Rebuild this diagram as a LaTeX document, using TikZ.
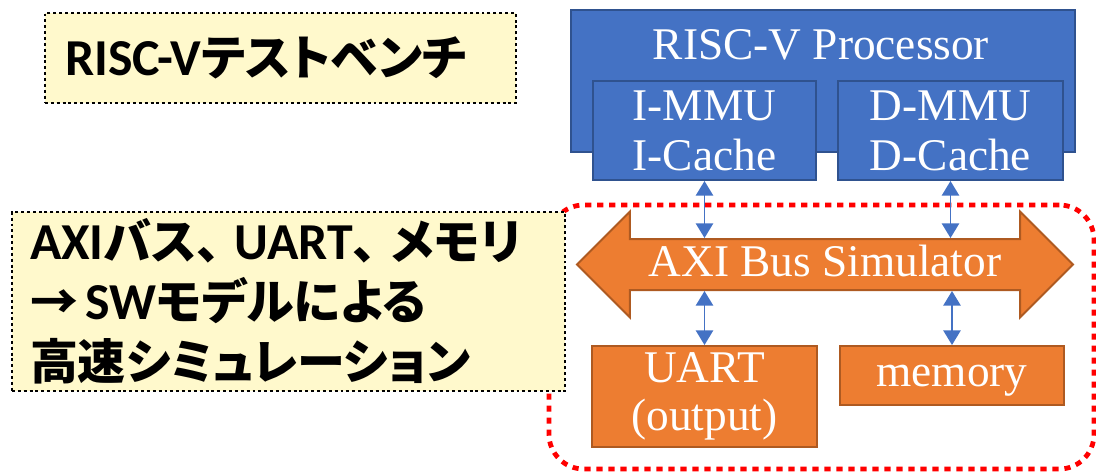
\documentclass[tikz,border=0pt]{standalone}
\usepackage{fontspec}
\usepackage{tikz}
\usetikzlibrary{calc, shapes, arrows.meta}
\setmainfont{Liberation Serif}
\newfontfamily\jpfont{Noto Sans CJK JP}[RawFeature=+palt]
\newfontfamily\lt{Carlito}[Scale=1.08]
\definecolor{cpublue}{HTML}{4472C4}
\definecolor{cpuedge}{HTML}{2F528F}
\definecolor{simorange}{HTML}{ED7D31}
\definecolor{simedge}{HTML}{AE5A21}
\definecolor{noteyellow}{HTML}{FFF9CC}

\begin{document}
\begin{tikzpicture}[x=0.75pt,y=-0.75pt]
\tikzstyle{line} = [draw, cpublue, line width=1.3pt, {Triangle[width=13pt,length=11pt]}-{Triangle[width=13pt,length=11pt]}]
\tikzstyle{cpu}=[rectangle,draw=cpuedge,fill=cpublue,line width=1.5pt,text=white,align=center,inner sep=0pt,font=\fontsize{34}{37.5}\selectfont]
\tikzstyle{sim}=[rectangle,draw=simedge,fill=simorange,line width=1.5pt,text=white,align=center,inner sep=0pt,font=\fontsize{34}{36}\selectfont]
\tikzstyle{note}=[rectangle,fill=noteyellow,draw=black,line width=2.2pt,dash pattern=on 2.2pt off 2.2pt,align=left,inner ysep=0pt,font=\jpfont\bfseries\fontsize{36}{45}\selectfont]
\tikzstyle{group}=[rectangle,draw=red,line width=3.6pt,dash pattern=on 4.6pt off 4.4pt,rounded corners=26pt]
\useasboundingbox (0,0) rectangle (1096,472);
% simulated part
\node[group, minimum width=408.75pt, minimum height=198pt] (swpart) at (821.5,337) {};
% testbench notes
\node[note, text width=323.25pt, inner xsep=15pt, minimum height=67.5pt] (bench) at (280.5,58) {{\lt RISC-V}テストベンチ};
\node[note, text width=387.75pt, inner xsep=13.5pt, minimum height=134.25pt] (swnote) at (288.5,301.5) {{\lt AXI}バス、\hspace{0.3em}{\lt UART}、\hspace{0.3em}メモリ\\→\hspace{0.15em}{\lt SW}モデルによる\\高速シミュレーション};
% processor
\node[cpu, minimum width=378pt, minimum height=106.5pt] (proc) at (823,81) {};
\node[text=white, font=\fontsize{34}{37.5}\selectfont] (proctitle) at (821,45) {RISC-V Processor};
\node[cpu, minimum width=167.25pt, minimum height=74.25pt] (immu) at (704.5,130.5) {I-MMU\\I-Cache};
\node[cpu, minimum width=168.75pt, minimum height=74.25pt] (dmmu) at (950.5,130.5) {D-MMU\\D-Cache};
% bus and devices
\node[double arrow, fill=simorange, draw=simedge, line width=1.5pt, text=white, font=\fontsize{34}{36}\selectfont, minimum height=372pt, double arrow head extend=20.6pt, inner xsep=0pt, inner ysep=0pt, text height=27pt, text depth=9.75pt] (bus) at (825,264.5) {AXI Bus Simulator};
\node[sim, minimum width=168.75pt, minimum height=75.75pt] (uart) at (704.5,396.5) {UART\\(output)};
\node[sim, minimum width=168pt, minimum height=44.25pt, text depth=0pt] (mem) at (952,375.5) {memory};
\path [line] (immu.south) -- (immu.south |- bus.north);
\path [line] (dmmu.south) -- (dmmu.south |- bus.north);
\path [line] (uart.north |- bus.south) -- (uart.north);
\path [line] (mem.north |- bus.south) -- (mem.north);

\end{tikzpicture}
\end{document}
